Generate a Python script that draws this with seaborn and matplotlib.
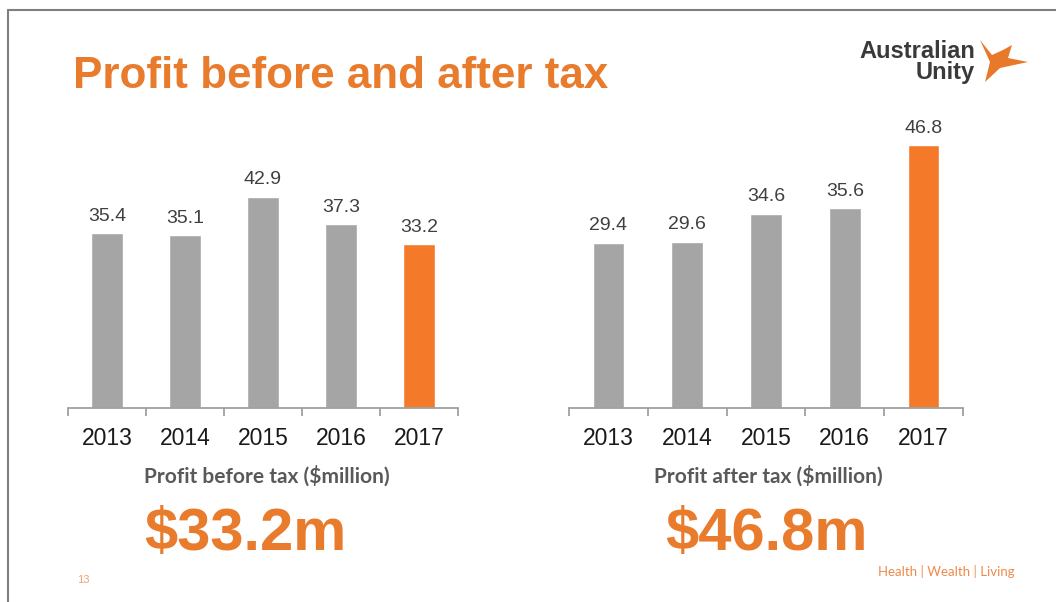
import matplotlib
matplotlib.use("Agg")
import matplotlib.pyplot as plt
import seaborn as sns
import pandas as pd
from matplotlib.lines import Line2D

years = ["2013", "2014", "2015", "2016", "2017"]
before_tax = [35.4, 35.1, 42.9, 37.3, 33.2]
after_tax = [29.4, 29.6, 34.6, 35.6, 46.8]
before_title = "Profit before tax (\\$million)"
after_title = "Profit after tax (\\$million)"
before_headline = "\\$33.2m"
after_headline = "\\$46.8m"

GREY = "#A5A5A5"
ORANGE = "#F47A2A"
TITLE_ORANGE = "#E87B2C"
bar_colors = [GREY, GREY, GREY, GREY, ORANGE]

sns.set_theme(style="white")
plt.rcParams["font.family"] = ["Liberation Sans", "DejaVu Sans"]

fig = plt.figure(figsize=(10.56, 6.02), dpi=100)
W, H = 1056, 602

def make_axes(left_px, right_px, base_px, ymax, px_per_unit):
    h = ymax * px_per_unit
    return fig.add_axes([left_px / W, (H - base_px) / H, (right_px - left_px) / W, h / H])

def draw(ax, values, ymax):
    df = pd.DataFrame({"year": years, "value": values})
    sns.barplot(data=df, x="year", y="value", hue="year", palette=bar_colors,
                width=0.4, legend=False, ax=ax, saturation=1)
    ax.set_xlim(-0.5, len(years) - 0.5)
    ax.set_ylim(0, ymax)
    for c in ax.containers:
        ax.bar_label(c, labels=[f"{v:.1f}" for v in c.datavalues], padding=6,
                     fontsize=14, color="#404040")
    for s in ["left", "top", "right"]:
        ax.spines[s].set_visible(False)
    ax.spines["bottom"].set_color("#A0A0A0")
    ax.spines["bottom"].set_linewidth(1.3)
    ax.set_yticks([])
    ax.set_xlabel("")
    ax.set_ylabel("")
    ax.set_xticks([i - 0.5 for i in range(len(years) + 1)], minor=True)
    ax.tick_params(axis="x", which="major", bottom=True, length=0, pad=14,
                   labelsize=16.5, labelcolor="#1a1a1a")
    ax.tick_params(axis="x", which="minor", bottom=True, length=6, width=1.3,
                   color="#A0A0A0", direction="out")
    ax.set_facecolor("white")

ax1 = make_axes(68, 458, 408, 50, 4.93)
draw(ax1, before_tax, 50)
ax2 = make_axes(569, 963, 408, 50, 5.62)
draw(ax2, after_tax, 50)

# Title
fig.text(73 / W, 1 - 88 / H, "Profit before and after tax", fontsize=31.7, fontweight="bold",
         color=TITLE_ORANGE, ha="left", va="baseline")

# Subtitles under charts
fig.text(267 / W, 1 - 476 / H, before_title, fontsize=15, fontweight="bold", color="#595959",
         family=["Lato", "DejaVu Sans"], ha="center", va="center")
fig.text(768 / W, 1 - 476 / H, after_title, fontsize=15, fontweight="bold", color="#595959",
         family=["Lato", "DejaVu Sans"], ha="center", va="center")

# Headline numbers
fig.text(245 / W, 1 - 535 / H, before_headline, fontsize=43, fontweight="bold", color=TITLE_ORANGE,
         ha="center", va="center")
fig.text(766 / W, 1 - 535 / H, after_headline, fontsize=43, fontweight="bold", color=TITLE_ORANGE,
         ha="center", va="center")

# Logo text
fig.text(975 / W, 1 - 51 / H, "Australian", fontsize=17, fontweight="bold", color="#3a3a3a",
         ha="right", va="center")
fig.text(975 / W, 1 - 73 / H, "Unity", fontsize=17, fontweight="bold", color="#3a3a3a",
         ha="right", va="center")
# simple bird mark
bird = plt.Polygon([[980 / W, 1 - 40 / H], [992 / W, 1 - 55 / H], [1003 / W, 1 - 50 / H],
                    [1012 / W, 1 - 45 / H], [1008 / W, 1 - 58 / H], [1028 / W, 1 - 62 / H],
                    [1000 / W, 1 - 68 / H], [985 / W, 1 - 82 / H], [990 / W, 1 - 62 / H]],
                   closed=True, transform=fig.transFigure, color="#E8782A", lw=0)
fig.patches.append(bird)

# Footer
fig.text(77 / W, 1 - 580 / H, "13", fontsize=8, color="#F2A070", ha="left", va="center")
fig.text(1015 / W, 1 - 572 / H, "Health | Wealth | Living", fontsize=9.5, color="#EE8A4A",
         family=["Lato", "DejaVu Sans"], ha="right", va="center")

# Slide frame lines
fig.add_artist(Line2D([8 / W, 8 / W], [0, 1 - 10 / H], transform=fig.transFigure,
                      color="#7f7f7f", lw=1.5))
fig.add_artist(Line2D([8 / W, 1], [1 - 10 / H, 1 - 10 / H], transform=fig.transFigure,
                      color="#7f7f7f", lw=1.5))

fig.savefig("out.png", dpi=100, facecolor="white")
